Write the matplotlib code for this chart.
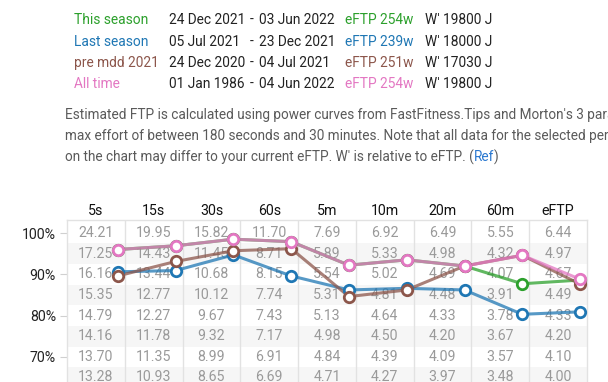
import matplotlib
matplotlib.use("Agg")
import matplotlib.pyplot as plt
import numpy as np

plt.rcParams['font.family'] = ['Roboto', 'DejaVu Sans']

# ---------------- data ----------------
columns = ["5s", "15s", "30s", "60s", "5m", "10m", "20m", "60m", "eFTP"]
row_pcts = [100, 95, 90, 85, 80, 75, 70, 65]
table_values = [
    ["24.21", "19.95", "15.82", "11.70", "7.69", "6.92", "6.49", "5.55", "6.44"],
    ["17.25", "14.43", "11.45", "8.71", "5.89", "5.33", "4.98", "4.32", "4.97"],
    ["16.16", "13.44", "10.68", "8.15", "5.54", "5.02", "4.69", "4.07", "4.67"],
    ["15.35", "12.77", "10.12", "7.74", "5.31", "4.81", "4.48", "3.91", "4.49"],
    ["14.79", "12.27", "9.67", "7.43", "5.13", "4.64", "4.33", "3.78", "4.33"],
    ["14.16", "11.78", "9.32", "7.17", "4.98", "4.50", "4.20", "3.67", "4.20"],
    ["13.70", "11.35", "8.99", "6.91", "4.84", "4.39", "4.09", "3.57", "4.10"],
    ["13.28", "10.93", "8.65", "6.69", "4.71", "4.27", "3.97", "3.48", "4.00"],
]
ytick_vals = [100, 90, 80, 70]
ytick_labels = ["100%", "90%", "80%", "70%"]

series_names = ["This season", "Last season", "pre mdd 2021", "All time"]
series_start = ["24 Dec 2021", "05 Jul 2021", "24 Dec 2020", "01 Jan 1986"]
series_end = ["03 Jun 2022", "23 Dec 2021", "04 Jul 2021", "04 Jun 2022"]
series_eftp = ["eFTP 254w", "eFTP 239w", "eFTP 251w", "eFTP 254w"]
series_wprime = ["W' 19800 J", "W' 18000 J", "W' 17030 J", "W' 19800 J"]
series_colors = ["#2ca02c", "#1f77b4", "#8c564b", "#e377c2"]

this_season = [96.0, 96.9, 98.5, 97.9, 92.2, 93.5, 92.0, 87.7, 88.6]
last_season = [90.6, 90.9, 94.7, 89.6, 86.2, 86.6, 86.2, 80.3, 80.9]
pre_mdd_2021 = [89.6, 93.1, 95.7, 96.2, 84.6, 86.2, 92.0, 94.6, 87.6]
all_time = [96.0, 96.9, 98.5, 97.9, 92.2, 93.5, 92.0, 94.6, 88.8]
series_values = [this_season, last_season, pre_mdd_2021, all_time]

para_lines = [
    "Estimated FTP is calculated using power curves from FastFitness.Tips and Morton's 3 parameter model",
    "max effort of between 180 seconds and 30 minutes. Note that all data for the selected period is shown",
    "on the chart may differ to your current eFTP. W' is relative to eFTP. (",
]

# ---------------- figure ----------------
W, H = 608, 382
fig = plt.figure(figsize=(W / 100, H / 100), dpi=100)
renderer = fig.canvas.get_renderer()

def fx(px):
    return px / W

def fy(py):
    return 1 - py / H

def fit_size(s, target_px, base=10.0):
    t = fig.text(0, 0, s, fontsize=base)
    w = t.get_window_extent(renderer).width
    t.remove()
    return base * target_px / w

hdr_fs = fit_size("This season", 74)
para_fs = fit_size(para_lines[2] + "Ref)", 435)

# header rows
row_y = [20, 42, 63, 84]
for i in range(4):
    y = fy(row_y[i])
    c = series_colors[i]
    fig.text(fx(74), y, series_names[i], color=c, fontsize=hdr_fs, va="center", ha="left")
    fig.text(fx(169), y, series_start[i], color="#222222", fontsize=hdr_fs, va="center", ha="left")
    fig.text(fx(252), y, "-", color="#222222", fontsize=hdr_fs, va="center", ha="center")
    fig.text(fx(259), y, series_end[i], color="#222222", fontsize=hdr_fs, va="center", ha="left")
    fig.text(fx(345), y, series_eftp[i], color=c, fontsize=hdr_fs, va="center", ha="left")
    fig.text(fx(425), y, series_wprime[i], color="#222222", fontsize=hdr_fs, va="center", ha="left")

# paragraph
para_col = "#5a5a5a"
para_y = [115, 136, 157]
for line, py in zip(para_lines[:2], para_y[:2]):
    fig.text(fx(65), fy(py), line, color=para_col, fontsize=para_fs, va="center", ha="left")
t = fig.text(fx(65), fy(para_y[2]), para_lines[2], color=para_col, fontsize=para_fs,
             va="center", ha="left")
bb = t.get_window_extent(renderer)
t2 = fig.text(bb.x1 / W, fy(para_y[2]), "Ref", color="#2a78d0", fontsize=para_fs, va="center", ha="left")
bb2 = t2.get_window_extent(renderer)
fig.text(bb2.x1 / W, fy(para_y[2]), ")", color=para_col, fontsize=para_fs, va="center", ha="left")

# ---------------- chart axes ----------------
left_px, right_px, top_px, bot_px = 67, 587, 220, 382
ax = fig.add_axes([fx(left_px), fy(bot_px), (right_px - left_px) / W, (bot_px - top_px) / H])
ymin, ymax = 63.9, 103.15
ax.set_xlim(0, len(columns))
ax.set_ylim(ymin, ymax)

cell_fs = 10.2

# row bands
for r, p in enumerate(row_pcts):
    lo = p - 2.5
    hi = min(p + 2.5, ymax) if r > 0 else ymax
    col = "#ffffff" if r % 2 == 0 else "#f6f6f6"
    ax.axhspan(lo, hi, color=col, zorder=0, lw=0)

# vertical grid lines
for c in range(1, len(columns)):
    ax.axvline(c, color="#e2e2e2", lw=1, zorder=1)

# table text
for r, p in enumerate(row_pcts):
    for c in range(len(columns)):
        ax.text(c + 0.5, p, table_values[r][c], color="#9a9a9a", fontsize=cell_fs,
                ha="center", va="center", zorder=2)

# column headers
for c, name in enumerate(columns):
    ax.text(c + 0.5, ymax + 0.6, name, color="#111111", fontsize=cell_fs, ha="center",
            va="bottom", clip_on=False)

# series
xs = np.arange(len(columns)) + 0.88
for vals, col in zip(series_values, series_colors):
    ax.plot(xs, vals, color=col, lw=2.2, alpha=0.75, zorder=3,
            solid_joinstyle="round")
    ax.plot(xs, vals, ls="none", marker="o", ms=7.5, mfc="white", mec=col,
            mew=2, zorder=4)

ax.set_yticks(ytick_vals)
ax.set_yticklabels(ytick_labels)
ax.set_xticks([])
ax.tick_params(axis="y", length=5, color="#d0d0d0", labelsize=cell_fs, labelcolor="#222222", pad=3)
for s in ["left", "right", "top"]:
    ax.spines[s].set_color("#e2e2e2")
    ax.spines[s].set_linewidth(1)
ax.spines["bottom"].set_visible(False)

fig.savefig("out.png", dpi=100)
